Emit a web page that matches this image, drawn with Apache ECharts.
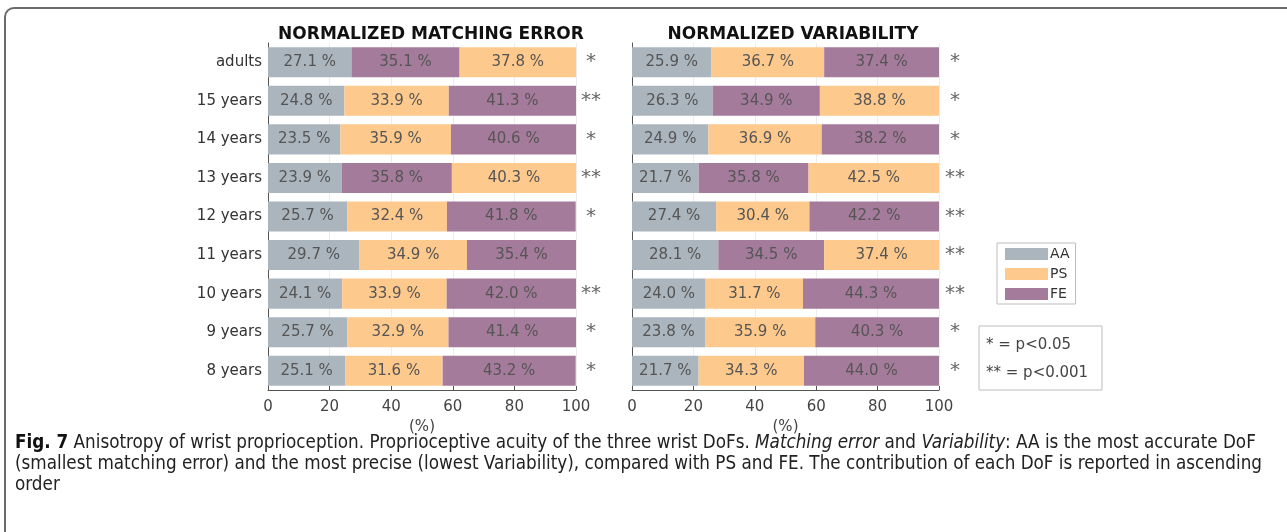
<!DOCTYPE html>
<html>
<head>
<meta charset="utf-8">
<script src="https://cdn.jsdelivr.net/npm/echarts@6/dist/echarts.min.js"></script>
<style>
html,body{margin:0;padding:0;background:#fff;}
#chart{width:1287px;height:532px;}
</style>
</head>
<body>
<div id="chart"></div>
<script>
// ---- data ----
const categories = ['adults','15 years','14 years','13 years','12 years','11 years','10 years','9 years','8 years'];
const dofNames = ['AA','PS','FE'];
// Normalized matching error (%)
const meAA = [27.1, 24.8, 23.5, 23.9, 25.7, 29.7, 24.1, 25.7, 25.1];
const mePS = [37.8, 33.9, 35.9, 40.3, 32.4, 34.9, 33.9, 32.9, 31.6];
const meFE = [35.1, 41.3, 40.6, 35.8, 41.8, 35.4, 42.0, 41.4, 43.2];
const meStars = ['*','**','*','**','*','','**','*','*'];
// Normalized variability (%)
const varAA = [25.9, 26.3, 24.9, 21.7, 27.4, 28.1, 24.0, 23.8, 21.7];
const varPS = [36.7, 38.8, 36.9, 42.5, 30.4, 37.4, 31.7, 35.9, 34.3];
const varFE = [37.4, 34.9, 38.2, 35.8, 42.2, 34.5, 44.3, 40.3, 44.0];
const varStars = ['*','*','*','**','**','**','**','*','*'];
const xTicks = [0, 20, 40, 60, 80, 100];

const colors = {AA: '#abb5be', PS: '#fdc98c', FE: '#a57b9b'};
const txt = '#444';
const font = 'DejaVu Sans';
const capFont = 'Liberation Sans Narrow, DejaVu Sans Condensed, sans-serif';

// build position-ordered (ascending) stacked series
function buildSeries(aa, ps, fe, gridIdx, stackName) {
  const pos = [[], [], []];
  categories.forEach((c, i) => {
    const items = [{n:'AA', v:aa[i]}, {n:'PS', v:ps[i]}, {n:'FE', v:fe[i]}];
    items.sort((a, b) => a.v - b.v);
    items.forEach((it, k) => {
      pos[k].push({value: it.v, itemStyle: {color: colors[it.n]}});
    });
  });
  return pos.map((d, k) => ({
    type: 'bar',
    name: stackName + k,
    stack: stackName,
    xAxisIndex: gridIdx,
    yAxisIndex: gridIdx * 2,
    barCategoryGap: '22%',
    data: d,
    label: {
      show: true, position: 'inside', color: '#555', fontFamily: font, fontSize: 15,
      formatter: p => p.value.toFixed(1) + ' %'
    },
    emphasis: {disabled: true},
    silent: true
  }));
}

const grids = [
  {left: 268, top: 43, width: 308, height: 347},
  {left: 632, top: 43, width: 307, height: 347}
];

function xAxis(gi) {
  return {
    type: 'value', gridIndex: gi, min: xTicks[0], max: xTicks[xTicks.length - 1], interval: 20,
    name: '(%)', nameLocation: 'middle', nameGap: 29,
    nameTextStyle: {color: txt, fontFamily: font, fontSize: 15},
    axisLine: {show: true, lineStyle: {color: '#555', width: 1}},
    axisTick: {show: true, inside: true, length: 4, lineStyle: {color: '#555'}},
    axisLabel: {color: txt, fontFamily: font, fontSize: 15, margin: 10},
    splitLine: {show: true, lineStyle: {color: '#ececec', width: 1}}
  };
}
function yAxes(gi, stars, margin, showLabels) {
  return [
    {
      type: 'category', gridIndex: gi, data: categories, inverse: true,
      axisLine: {show: true, lineStyle: {color: '#555', width: 1}},
      axisTick: {show: true, inside: true, length: 4, alignWithLabel: true, lineStyle: {color: '#555'}},
      axisLabel: {show: showLabels, color: '#333', fontFamily: font, fontSize: 15, margin: 6}
    },
    {
      type: 'category', gridIndex: gi, data: categories, inverse: true, position: 'right',
      axisLine: {show: false}, axisTick: {show: false},
      axisLabel: {
        color: '#666', fontFamily: font, fontSize: 20, margin: margin, align: 'center',
        padding: [14, 0, 0, 0],
        formatter: (v, i) => stars[i]
      }
    }
  ];
}

const series = [
  ...buildSeries(meAA, mePS, meFE, 0, 'me'),
  ...buildSeries(varAA, varPS, varFE, 1, 'var'),
  ...dofNames.map(n => ({type: 'bar', name: n, stack: 'me', xAxisIndex: 0, yAxisIndex: 0, data: [], itemStyle: {color: colors[n]}}))
];

const chart = echarts.init(document.getElementById('chart'), null, {renderer: 'canvas'});
chart.setOption({
  animation: false,
  backgroundColor: '#fff',
  title: [
    {text: 'NORMALIZED MATCHING ERROR', left: 426, top: 21, textAlign: 'center',
     textStyle: {fontFamily: font, fontWeight: 'bold', fontSize: 17, color: '#111'}},
    {text: 'NORMALIZED VARIABILITY', left: 788, top: 21, textAlign: 'center',
     textStyle: {fontFamily: font, fontWeight: 'bold', fontSize: 17, color: '#111'}}
  ],
  legend: {
    data: dofNames, orient: 'vertical', left: 997, top: 243,
    icon: 'rect', itemWidth: 43, itemHeight: 12, itemGap: 6,
    padding: [4, 6, 3, 8],
    borderColor: '#bdbdbd', borderWidth: 1,
    textStyle: {fontFamily: font, fontSize: 14, color: '#333', padding: [0, 0, 0, -3]},
    selectedMode: false
  },
  grid: grids,
  xAxis: [xAxis(0), xAxis(1)],
  yAxis: [...yAxes(0, meStars, 15, true), ...yAxes(1, varStars, 16, false)],
  series: series,
  graphic: [
    {type: 'rect', shape: {x: 5, y: 8, width: 1400, height: 700, r: [9, 0, 0, 0]},
     style: {fill: 'none', stroke: '#6a6a6a', lineWidth: 2}, silent: true, z: 100},
    {type: 'rect', shape: {x: 979, y: 326, width: 123, height: 64},
     style: {fill: '#fff', stroke: '#bdbdbd', lineWidth: 1}, silent: true},
    {type: 'text', x: 986, y: 345, style: {text: '* = p<0.05', fontFamily: font, fontSize: 15, fill: '#444', verticalAlign: 'middle'}, silent: true},
    {type: 'text', x: 986, y: 373, style: {text: '** = p<0.001', fontFamily: font, fontSize: 15, fill: '#444', verticalAlign: 'middle'}, silent: true},
    {type: 'text', x: 15, y: 443, silent: true, style: {
      text: '{b|Fig. 7} Anisotropy of wrist proprioception. Proprioceptive acuity of the three wrist DoFs. {i|Matching error} and {i|Variability}: AA is the most accurate DoF',
      verticalAlign: 'middle', fontFamily: capFont, fontSize: 18.7, fill: '#222',
      rich: {b: {fontWeight: 'bold', fontFamily: capFont, fontSize: 18.7, fill: '#111'},
             i: {fontStyle: 'italic', fontFamily: capFont, fontSize: 18.7, fill: '#222'}}}},
    {type: 'text', x: 15, y: 464, silent: true, style: {
      text: '(smallest matching error) and the most precise (lowest Variability), compared with PS and FE. The contribution of each DoF is reported in ascending',
      verticalAlign: 'middle', fontFamily: capFont, fontSize: 18.7, fill: '#222'}},
    {type: 'text', x: 15, y: 485, silent: true, style: {
      text: 'order',
      verticalAlign: 'middle', fontFamily: capFont, fontSize: 18.7, fill: '#222'}}
  ]
});
</script>
</body>
</html>
